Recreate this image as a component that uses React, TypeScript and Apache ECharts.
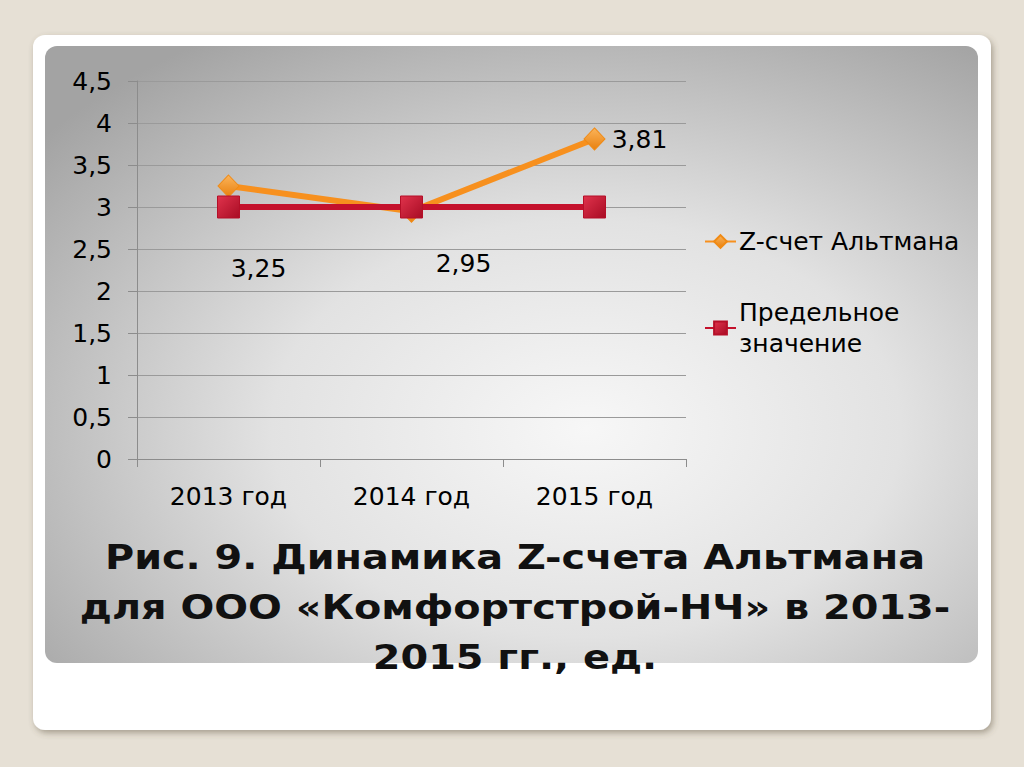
import { useEffect, useRef } from "react";
import * as echarts from "echarts";

const categories = ["2013 год", "2014 год", "2015 год"];
const zScore = [3.25, 2.95, 3.81];
const threshold = [3, 3, 3];
const zLabelOffsets = [[30, 82], [52, 52], [45, 1]];

const FONT = "'DejaVu Sans', Verdana, sans-serif";
const FS = 25;
const comma = (v: number) => String(v).replace(".", ",");

export default function App() {
  const ref = useRef<HTMLDivElement>(null);

  useEffect(() => {
    if (!ref.current) return;
    const chart = echarts.init(ref.current, undefined, { renderer: "svg" });

    chart.setOption({
      animation: false,
      backgroundColor: "#e6e0d5",
      textStyle: { fontFamily: FONT },
      graphic: [
        {
          type: "rect",
          z: -10,
          shape: { x: 33, y: 35, width: 958, height: 695, r: 12 },
          style: { fill: "#ffffff", shadowBlur: 6, shadowOffsetX: 2, shadowOffsetY: 3, shadowColor: "rgba(90,80,60,0.45)" },
        },
        {
          type: "rect",
          z: -9,
          shape: { x: 45, y: 46, width: 933, height: 617, r: 12 },
          style: {
            fill: {
              type: "radial", x: 0.58, y: 0.62, r: 0.75,
              colorStops: [
                { offset: 0, color: "#f7f7f7" },
                { offset: 0.45, color: "#e2e2e2" },
                { offset: 1, color: "#a3a3a3" },
              ],
            },
          },
        },
        {
          type: "text",
          z: 10,
          x: 515,
          y: 533,
          scaleX: 1.17,
          style: {
            text: "Рис. 9. Динамика Z-счета Альтмана\nдля ООО «Комфортстрой-НЧ» в 2013-\n2015 гг., ед.",
            align: "center",
            fontFamily: FONT,
            fontSize: 34,
            fontWeight: "bold",
            lineHeight: 50,
            fill: "#111",
            shadowColor: "rgba(0,0,0,0.45)",
            shadowBlur: 4,
            shadowOffsetX: 2,
            shadowOffsetY: 2,
          } as any,
        },
      ],
      grid: { left: 137, right: 338, top: 81, bottom: 308, containLabel: false },
      legend: {
        orient: "vertical",
        left: 704,
        top: 226,
        padding: 0,
        itemWidth: 31,
        itemHeight: 16,
        itemGap: 40,
        textStyle: { fontSize: FS, color: "#000", fontFamily: FONT, lineHeight: 31, padding: [0, 0, 0, -2] },
        formatter: (n: string) => (n === "Предельное значение" ? "Предельное\nзначение" : n),
        data: ["Z-счет Альтмана", "Предельное значение"],
      },
      xAxis: {
        type: "category",
        data: categories,
        boundaryGap: true,
        axisLine: { lineStyle: { color: "#8c8c8c", width: 1 } },
        axisTick: { show: true, length: 8, lineStyle: { color: "#8c8c8c" } },
        axisLabel: { fontSize: FS, color: "#000", margin: 25, fontFamily: FONT },
      },
      yAxis: {
        type: "value",
        min: 0,
        max: 4.5,
        interval: 0.5,
        axisLine: { show: true, lineStyle: { color: "#8c8c8c", width: 1 } },
        axisTick: { show: true, length: 9, lineStyle: { color: "#8c8c8c" } },
        splitLine: { lineStyle: { color: "#9a9a9a", width: 1 } },
        axisLabel: { fontSize: FS, color: "#000", margin: 25, formatter: comma, fontFamily: FONT },
      },
      series: [
        {
          name: "Z-счет Альтмана",
          type: "line",
          data: zScore.map((v, i) => ({
            value: v,
            label: { position: "inside", offset: zLabelOffsets[i] },
          })),
          symbol: "diamond",
          symbolSize: [21, 22],
          lineStyle: { color: "#f7901e", width: 6 },
          itemStyle: {
            color: {
              type: "linear", x: 0, y: 0, x2: 0, y2: 1,
              colorStops: [
                { offset: 0, color: "#fbb45a" },
                { offset: 1, color: "#e8800f" },
              ],
            },
            borderColor: "#f08a14",
            borderWidth: 1,
          },
          label: {
            show: true,
            formatter: (p: any) => comma(p.value),
            fontSize: FS,
            color: "#000",
            fontFamily: FONT,
          },
          z: 3,
        },
        {
          name: "Предельное значение",
          type: "line",
          data: threshold,
          symbol: "rect",
          symbolSize: 22,
          lineStyle: { color: "#c4112c", width: 6 },
          itemStyle: {
            color: {
              type: "linear", x: 0, y: 0, x2: 1, y2: 1,
              colorStops: [
                { offset: 0, color: "#e0334c" },
                { offset: 1, color: "#a80c24" },
              ],
            },
            borderColor: "#b50f28",
            borderWidth: 1,
          },
          z: 4,
        },
      ],
    });

    return () => chart.dispose();
  }, []);

  return (
    <div
      ref={ref}
      style={{ position: "fixed", left: 0, top: 0, width: 1024, height: 767 }}
    />
  );
}
